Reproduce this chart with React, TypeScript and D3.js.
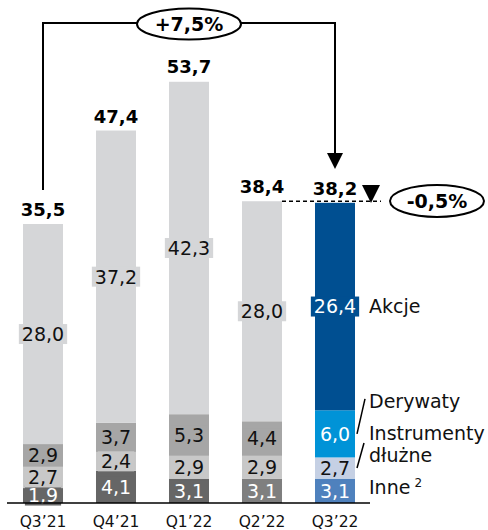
import React from "react";
import * as d3 from "d3";

const categories = ["Q3’21", "Q4’21", "Q1’22", "Q2’22", "Q3’22"];
const inne = [1.9, 4.1, 3.1, 3.1, 3.1];
const instrumenty = [2.7, 2.4, 2.9, 2.9, 2.7];
const derywaty = [2.9, 3.7, 5.3, 4.4, 6.0];
const akcje = [28.0, 37.2, 42.3, 28.0, 26.4];
const totals = [35.5, 47.4, 53.7, 38.4, 38.2];
const seriesNames = ["Inne", "Instrumenty dłużne", "Derywaty", "Akcje"];
const changeYoY = "+7,5%";
const changeQoQ = "-0,5%";

const fillColors = [
  ["#666666", "#666666", "#666666", "#7f7f7f", "#4f81bd"],
  ["#c8c8c8", "#c8c8c8", "#c8c8c8", "#c8c8c8", "#c5d0e4"],
  ["#a6a6a6", "#a6a6a6", "#a6a6a6", "#a6a6a6", "#0093d7"],
  ["#d5d6d8", "#d5d6d8", "#d5d6d8", "#d5d6d8", "#004f91"],
];
const textColors = [
  ["#fff", "#fff", "#fff", "#fff", "#fff"],
  ["#111", "#111", "#111", "#111", "#111"],
  ["#111", "#111", "#111", "#111", "#fff"],
  ["#111", "#111", "#111", "#111", "#fff"],
];

const FONT = "DejaVu Sans";
const fmt = (v: number) => v.toFixed(1).replace(".", ",");

function textW(s: string, size: number) {
  let w = 0;
  for (const ch of s) w += ch === "," ? 0.318 : 0.636;
  return w * size;
}

export default function App() {
  const W = 488, H = 530;
  const baseY = 503;
  const x = d3.scaleBand<string>().domain(categories).range([6.5, 371.5]).paddingInner(0.452).paddingOuter(0.226);
  const y = d3.scaleLinear().domain([0, 53.7]).range([baseY, 81]);
  const bw = x.bandwidth();
  const series = [inne, instrumenty, derywaty, akcje];
  const stackData = categories.map((c, i) => {
    const o: any = { cat: c };
    seriesNames.forEach((n, k) => (o[n] = series[k][i]));
    return o;
  });
  const stack = d3.stack<any>().keys(seriesNames)(stackData);

  const cx = (i: number) => (x(categories[i]) as number) + bw / 2;
  const last = categories.length - 1;
  const lastStack = stack.map((s) => s[last]);
  const midY = (k: number) => y((lastStack[k][0] + lastStack[k][1]) / 2);
  const legendX = x(categories[last])! + bw + 14;

  const topY = 23;
  const bracketLeftX = cx(0);
  const bracketRightX = cx(last);
  const q2Top = y(totals[3]);

  return (
    <svg width={W} height={H} style={{ position: "absolute", left: 0, top: 0 }} fontFamily={FONT}>
      {stack.map((s, k) =>
        s.map((d, i) => (
          <rect key={`r${k}-${i}`} x={x(categories[i])} y={y(d[1])} width={bw} height={y(d[0]) - y(d[1])} fill={fillColors[k][i]} />
        ))
      )}
      {stack.map((s, k) =>
        s.map((d, i) => {
          const v = series[k][i];
          const t = fmt(v);
          const size = 19;
          const tw = textW(t, size);
          const my = y((d[0] + d[1]) / 2);
          const bxW = tw + 6;
          return (
            <g key={`l${k}-${i}`}>
              <rect x={cx(i) - bxW / 2} y={my - 10} width={bxW} height={20} fill={fillColors[k][i]} />
              <text x={cx(i)} y={my} dy="0.36em" textAnchor="middle" fontSize={size} fill={textColors[k][i]}>
                {t}
              </text>
            </g>
          );
        })
      )}
      <line x1={7} x2={370} y1={baseY} y2={baseY} stroke="#000" strokeWidth={1.5} />
      {categories.map((c, i) => (
        <text key={c} x={cx(i)} y={527} textAnchor="middle" fontSize={15.5} fill="#111">
          {c}
        </text>
      ))}
      {totals.map((t, i) => (
        <text key={`t${i}`} x={cx(i)} y={y(t) - 8} textAnchor="middle" fontSize={18} fontWeight="bold" fill="#000">
          {fmt(t)}
        </text>
      ))}
      <path d={`M${bracketLeftX},190 V${topY} H${bracketRightX} V155`} fill="none" stroke="#000" strokeWidth={2} />
      <path d={`M${bracketRightX - 8},153 L${bracketRightX + 8},153 L${bracketRightX},169 Z`} fill="#000" />
      <ellipse cx={cx(2)} cy={24} rx={52} ry={15.5} fill="#fff" stroke="#000" strokeWidth={2} />
      <text x={cx(2)} y={24} dy="0.36em" textAnchor="middle" fontSize={19} fontWeight="bold">
        {changeYoY}
      </text>
      <line x1={x(categories[3])! + bw} x2={381} y1={q2Top} y2={q2Top} stroke="#000" strokeWidth={1.3} strokeDasharray="4,3" />
      <path d={`M362,185 L380,185 L371,203 Z`} fill="#000" />
      <ellipse cx={437} cy={201} rx={47} ry={16} fill="#fff" stroke="#000" strokeWidth={2} />
      <text x={437} y={201} dy="0.36em" textAnchor="middle" fontSize={19} fontWeight="bold">
        {changeQoQ}
      </text>
      <text x={legendX} y={midY(3)} dy="0.36em" fontSize={19} fill="#111">Akcje</text>
      <text x={legendX} y={midY(2) - 33} dy="0.36em" fontSize={19} fill="#111">Derywaty</text>
      <line x1={legendX - 4} y1={midY(2) - 35} x2={legendX - 12} y2={midY(2)} stroke="#000" strokeWidth={1.5} />
      <text x={legendX} y={midY(1) - 35} dy="0.36em" fontSize={19} fill="#111">Instrumenty</text>
      <text x={legendX} y={midY(1) - 13} dy="0.36em" fontSize={19} fill="#111">dłużne</text>
      <line x1={legendX - 5} y1={midY(1) - 25} x2={legendX - 12} y2={midY(1)} stroke="#000" strokeWidth={1.5} />
      <text x={legendX} y={midY(0) - 4} dy="0.36em" fontSize={19} fill="#111">
        Inne<tspan dx={4} dy={-7} fontSize={12}>2</tspan>
      </text>
    </svg>
  );
}
